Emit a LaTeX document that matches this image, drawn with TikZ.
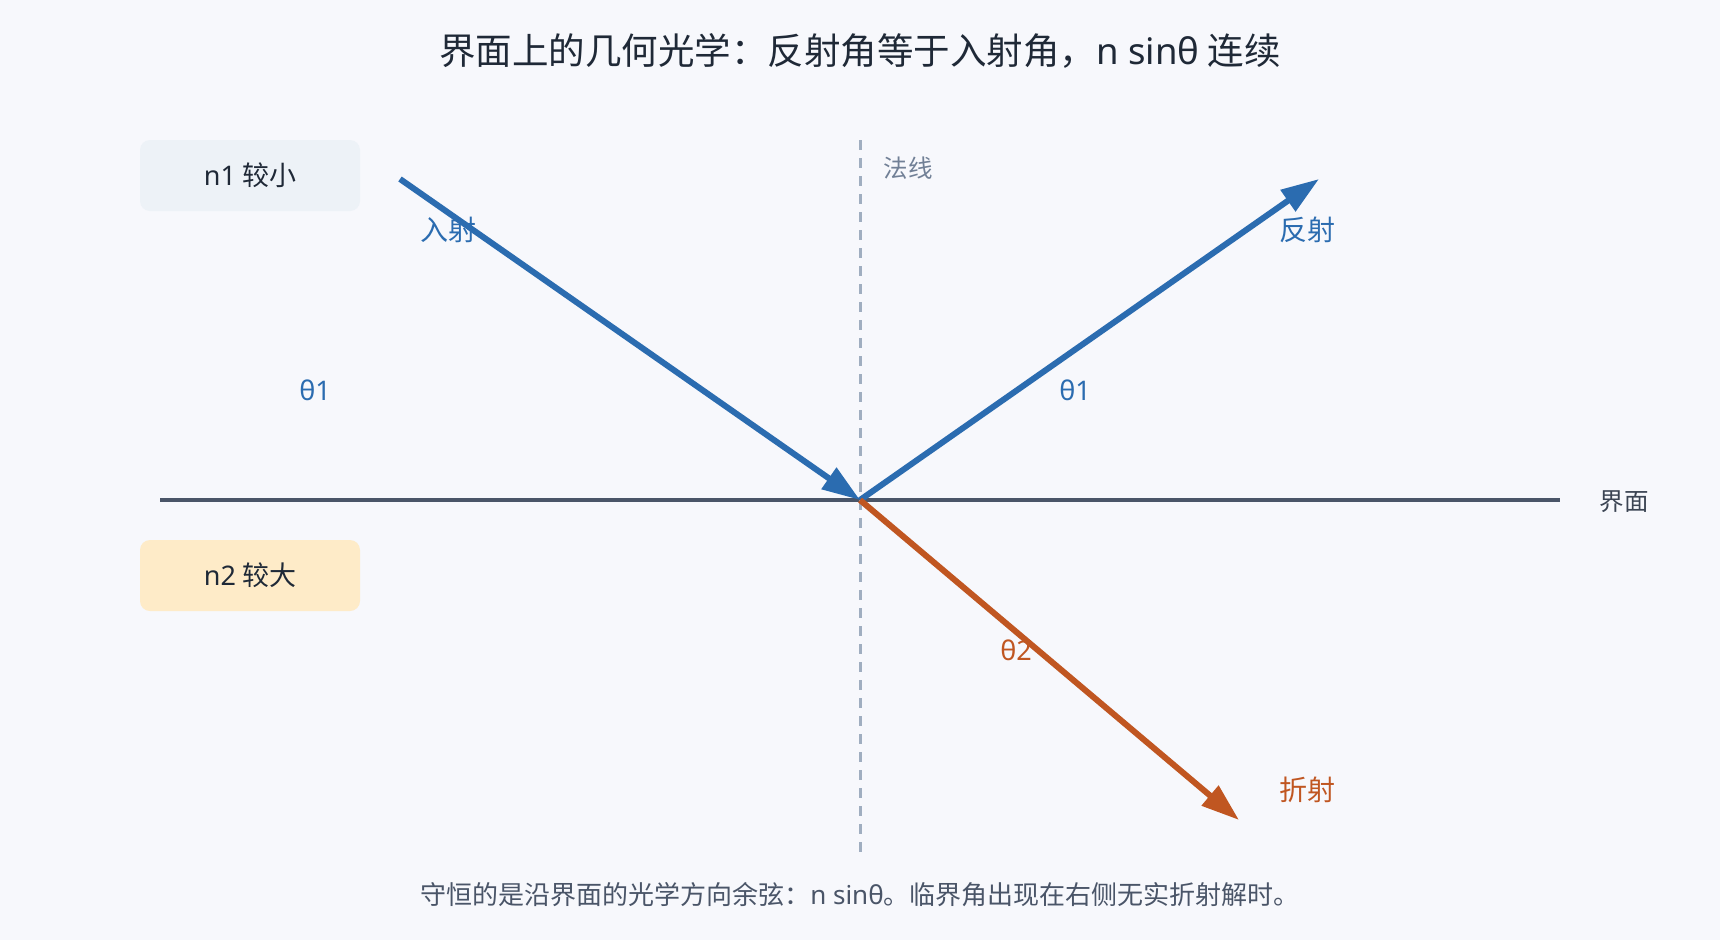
\documentclass[tikz,border=0pt]{standalone}
\usepackage{fontspec}
\setmainfont{Noto Sans CJK SC}
\newfontfamily\lat{Noto Sans}
\usetikzlibrary{arrows.meta}
\definecolor{bg}{HTML}{F7F8FC}
\definecolor{raybl}{HTML}{2B6CB0}
\definecolor{rayor}{HTML}{C05621}
\definecolor{ifc}{HTML}{4A5568}
\definecolor{nrm}{HTML}{A0AEC0}
\definecolor{txt}{HTML}{1F2937}
\definecolor{muted}{HTML}{718096}
\definecolor{boxa}{HTML}{EDF2F7}
\definecolor{boxb}{HTML}{FEEBC8}
\tikzset{
  ray/.style={line width=6pt},
  tipb/.style={-{Triangle[length=38pt,width=25pt]}},
  medium/.style={rounded corners=10pt, minimum width=220pt, minimum height=71pt, inner sep=0pt, font=\fontsize{27}{32}\selectfont, text=txt},
  lbl/.style={font=\fontsize{28}{32}\selectfont, inner sep=0pt},
  ang/.style={font=\lat\fontsize{27}{32}\selectfont, inner sep=0pt},
}
\begin{document}
\begin{tikzpicture}[x=1pt,y=-1pt]
\fill[bg] (0,0) rectangle (1720,940);
\useasboundingbox (0,0) rectangle (1720,940);
% title
\node[font=\fontsize{36.5}{42}\selectfont, text=txt] (title) at (860,51) {界面上的几何光学：反射角等于入射角，{\lat n sinθ} 连续};
% media boxes
\node[medium, fill=boxa] (n1) at (250,175.5) {{\lat n1} 较小};
\node[medium, fill=boxb] (n2) at (250,575.5) {{\lat n2} 较大};
% geometry coordinates
\coordinate (O) at (860,500);
\coordinate (iL) at (160,500);
\coordinate (iR) at (1560,500);
\coordinate (nT) at (860,140);
\coordinate (nB) at (860,852);
\coordinate (inS) at (400,179);
\coordinate (reE) at (1319,179);
\coordinate (rfE) at (1239,820);
% interface and normal
\draw[ifc, line width=4pt] (iL) -- (iR);
\draw[nrm, line width=3pt, dash pattern=on 10pt off 8pt] (nT) -- (nB);
% rays
\draw[ray, raybl, tipb] (inS) -- (O);
\draw[ray, raybl, tipb] (O) -- (reE);
\draw[ray, rayor, tipb] (O) -- (rfE);
% labels
\node[lbl, text=raybl] (linc) at (448,230) {入射};
\node[lbl, text=raybl] (lref) at (1307,230) {反射};
\node[lbl, text=rayor] (lrfr) at (1307,790) {折射};
\node[ang, text=raybl] (t1a) at (315,390) {θ1};
\node[ang, text=raybl] (t1b) at (1075,390) {θ1};
\node[ang, text=rayor] (t2) at (1016,650) {θ2};
\node[font=\fontsize{24.5}{28}\selectfont, text=muted, inner sep=0pt] (lnrm) at (908,168) {法线};
\node[font=\fontsize{24.5}{28}\selectfont, text=ifc!80!black, inner sep=0pt] (lifc) at (1624,502) {界面};
% footer
\node[font=\fontsize{26}{30}\selectfont, text=ifc] (foot) at (860,895) {守恒的是沿界面的光学方向余弦：{\lat n sinθ}。临界角出现在右侧无实折射解时。};
\end{tikzpicture}
\end{document}
